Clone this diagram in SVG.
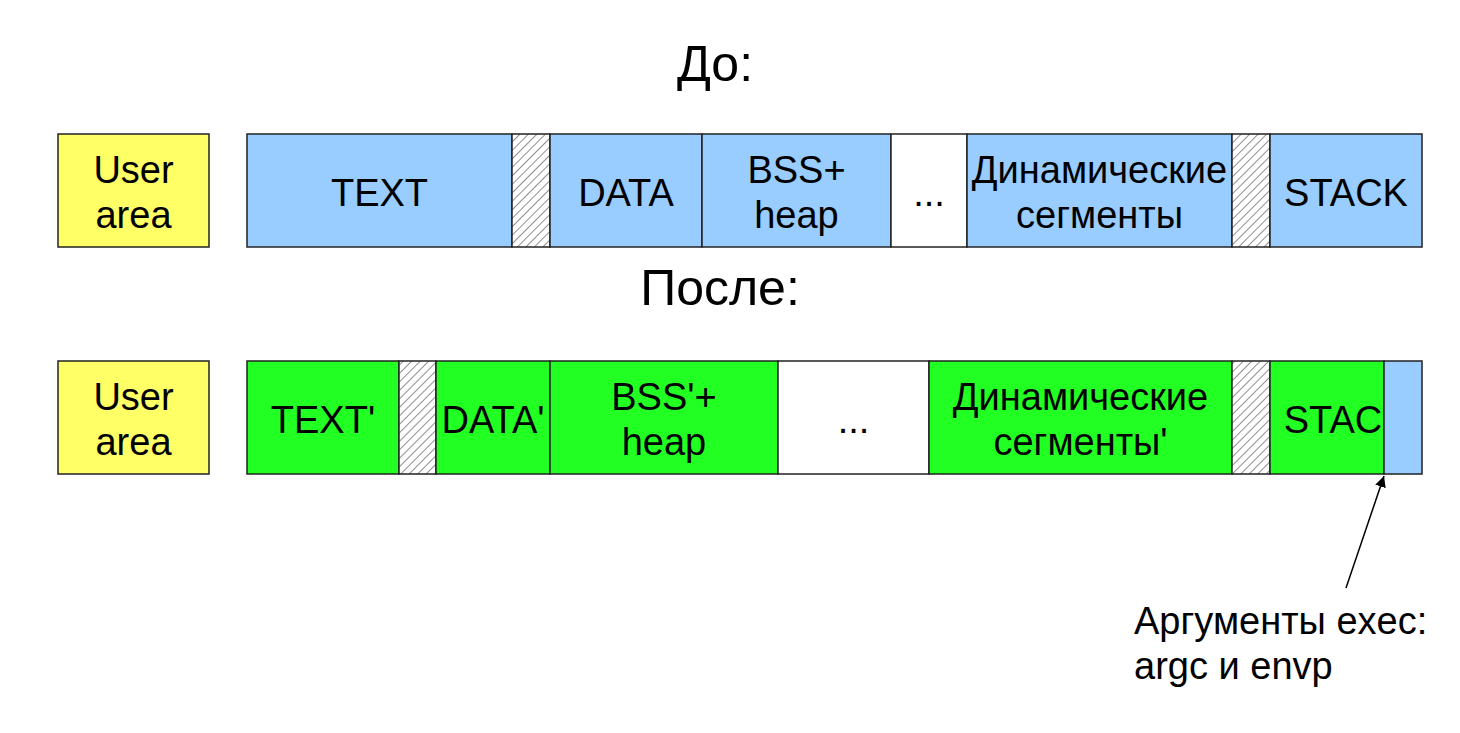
<svg xmlns="http://www.w3.org/2000/svg" width="1460" height="733" viewBox="0 0 1460 733">
<defs>
<pattern id="hatch" patternUnits="userSpaceOnUse" width="6" height="6" patternTransform="rotate(45)">
<rect width="6" height="6" fill="#fff"/>
<line x1="0" y1="0" x2="0" y2="6" stroke="#444" stroke-width="1.2"/>
</pattern>
<marker id="ah" viewBox="0 0 10 10" refX="10" refY="5" markerWidth="11" markerHeight="11" markerUnits="userSpaceOnUse" orient="auto">
<path d="M0,0 L10,5 L0,10 z" fill="#000"/>
</marker>
<style>
.b{stroke:#222;stroke-width:1.5}
.y{fill:#ffff66}
.bl{fill:#99ccff}
.g{fill:#22ff22}
.w{fill:#fff}
.h{fill:url(#hatch)}
text{font-family:"Liberation Sans",Arial,sans-serif;fill:#000}
.t{font-size:38px;text-anchor:middle}
.ttl{font-size:50px;text-anchor:middle}
.note{font-size:38px}
</style>
</defs>
<rect width="1460" height="733" fill="#fff"/>
<text class="ttl" x="715" y="81">До:</text>
<text class="ttl" x="720" y="305">После:</text>

<g id="before">
<g id="ua1"><rect class="b y" x="58" y="134" width="151" height="113"/><text class="t" x="133.5" y="183">User</text><text class="t" x="133.5" y="228">area</text></g>
<g id="text1"><rect class="b bl" x="247" y="134" width="265" height="113"/><text class="t" x="379.5" y="206">TEXT</text></g>
<g id="h1"><rect class="b h" x="512" y="134" width="38" height="113"/></g>
<g id="data1"><rect class="b bl" x="550" y="134" width="152" height="113"/><text class="t" x="626" y="206">DATA</text></g>
<g id="bss1"><rect class="b bl" x="702" y="134" width="189" height="113"/><text class="t" x="796.5" y="183">BSS+</text><text class="t" x="796.5" y="228">heap</text></g>
<g id="dots1"><rect class="b w" x="891" y="134" width="76" height="113"/><text class="t" x="929" y="206">...</text></g>
<g id="dyn1"><rect class="b bl" x="967" y="134" width="265" height="113"/><text class="t" x="1099.5" y="183">Динамические</text><text class="t" x="1099.5" y="228">сегменты</text></g>
<g id="h2"><rect class="b h" x="1232" y="134" width="38" height="113"/></g>
<g id="stack1"><rect class="b bl" x="1270" y="134" width="152" height="113"/><text class="t" x="1346" y="206">STACK</text></g>
</g>

<g id="after">
<g id="ua2"><rect class="b y" x="58" y="361" width="151" height="113"/><text class="t" x="133.5" y="410">User</text><text class="t" x="133.5" y="455">area</text></g>
<g id="text2"><rect class="b g" x="247" y="361" width="152" height="113"/><text class="t" x="323" y="433">TEXT'</text></g>
<g id="h3"><rect class="b h" x="399" y="361" width="37" height="113"/></g>
<g id="data2"><rect class="b g" x="436" y="361" width="114" height="113"/><text class="t" x="493" y="433">DATA'</text></g>
<g id="bss2"><rect class="b g" x="550" y="361" width="228" height="113"/><text class="t" x="664" y="410">BSS'+</text><text class="t" x="664" y="455">heap</text></g>
<g id="dots2"><rect class="b w" x="778" y="361" width="151" height="113"/><text class="t" x="853.5" y="433">...</text></g>
<g id="dyn2"><rect class="b g" x="929" y="361" width="303" height="113"/><text class="t" x="1080.5" y="410">Динамические</text><text class="t" x="1080.5" y="455">сегменты'</text></g>
<g id="h4"><rect class="b h" x="1232" y="361" width="38" height="113"/></g>
<g id="stack2"><rect class="b g" x="1270" y="361" width="114" height="113"/><text class="t" x="1333" y="433">STAC</text></g>
<g id="args"><rect class="b bl" x="1384" y="361" width="38" height="113"/></g>
</g>

<g id="connectors">
<line x1="1346" y1="588" x2="1384" y2="476" stroke="#000" stroke-width="1.5" marker-end="url(#ah)"/>
</g>
<g id="note">
<text class="note" x="1134" y="634">Аргументы exec:</text>
<text class="note" x="1134" y="679">argc и envp</text>
</g>
</svg>
